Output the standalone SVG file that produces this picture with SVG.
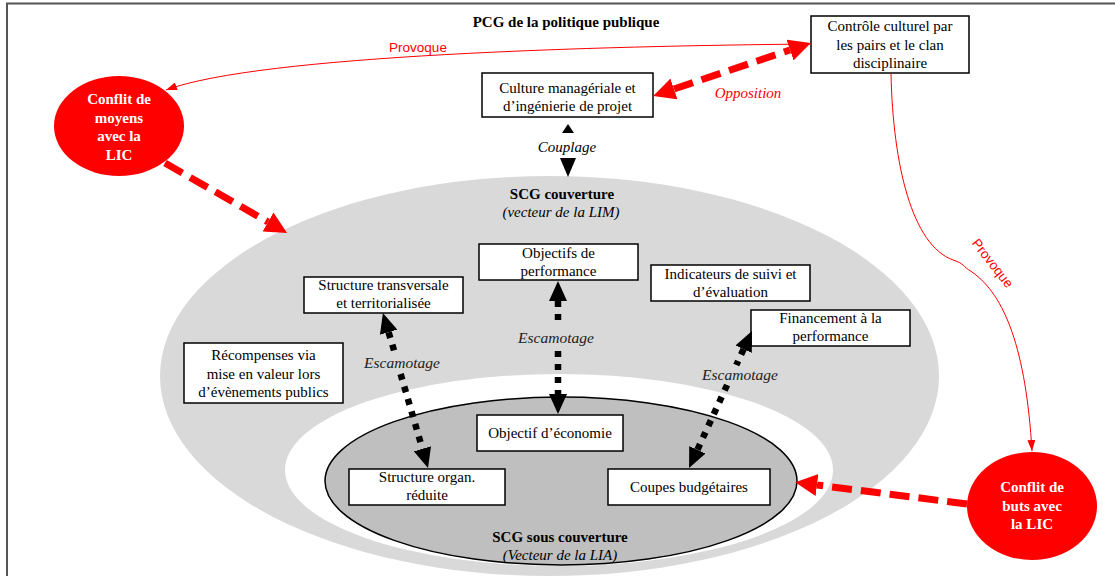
<svg xmlns="http://www.w3.org/2000/svg" width="1115" height="576" viewBox="0 0 1115 576">
<defs>
<style>
.bx{fill:#fff;stroke:#000;stroke-width:1.5}
.t{font-family:"Liberation Serif","Times New Roman","DejaVu Serif",serif;font-size:15px;fill:#000;text-anchor:middle}
.it{font-style:italic}
.b{font-weight:bold}
.w{fill:#fff;font-size:15px;font-weight:bold}
.rl{font-family:"Liberation Sans",Arial,sans-serif;font-size:13.5px;fill:#ff0000;text-anchor:middle}
.esc{font-family:"Liberation Serif","Times New Roman","DejaVu Serif",serif;font-size:15.5px;font-style:italic;fill:#222;text-anchor:middle}
.rdash{fill:none;stroke:#ff0000;stroke-width:7;stroke-dasharray:20 9}
.bdot{fill:none;stroke:#000;stroke-width:6.5;stroke-dasharray:6 7}
.thin{fill:none;stroke:#ff0000;stroke-width:1}
</style>
<marker id="rh" markerUnits="userSpaceOnUse" viewBox="0 0 22 22" markerWidth="22" markerHeight="22" refX="0" refY="11" orient="auto-start-reverse"><path d="M0,0 L22,11 L0,22 z" fill="#ff0000"/></marker>
<marker id="bh" markerUnits="userSpaceOnUse" viewBox="0 0 20 18" markerWidth="20" markerHeight="18" refX="0" refY="9" orient="auto-start-reverse"><path d="M0,0 L20,9 L0,18 z" fill="#000"/></marker>
<marker id="th" markerUnits="userSpaceOnUse" viewBox="0 0 11 8" markerWidth="11" markerHeight="8" refX="11" refY="4" orient="auto"><path d="M0,0 L11,4 L0,8 z" fill="#ff0000"/></marker>
</defs>
<rect width="1115" height="576" fill="#fff"/>
<path d="M7,576 L7,3.5 L1115,3.5" fill="none" stroke="#555" stroke-width="2"/>

<g id="scg-couverture">
<ellipse cx="549.5" cy="376" rx="389.5" ry="200" fill="#d9d9d9"/>
<ellipse cx="559" cy="470" rx="274" ry="96" fill="#fff"/>
<text class="t b" x="562" y="199">SCG couverture</text>
<text class="t it" x="561" y="217">(vecteur de la LIM)</text>
</g>
<g id="scg-sous-couverture">
<ellipse cx="561" cy="481" rx="236" ry="84" fill="#bfbfbf" stroke="#000" stroke-width="1.5"/>
<text class="t b" x="560" y="542">SCG sous couverture</text>
<text class="t it" x="560" y="560">(Vecteur de la LIA)</text>
</g>

<g id="title"><text class="t b" x="566" y="27">PCG de la politique publique</text></g>

<g id="controle"><rect class="bx" x="811" y="16" width="158" height="57"/>
<text class="t" x="890" y="31">Contrôle culturel par</text><text class="t" x="890" y="49.5">les pairs et le clan</text><text class="t" x="890" y="68">disciplinaire</text></g>
<g id="culture"><rect class="bx" x="482" y="73" width="171" height="44"/>
<text class="t" x="567.5" y="93">Culture managériale et</text><text class="t" x="567.5" y="111">d’ingénierie de projet</text></g>
<g id="objectifs-performance"><rect class="bx" x="479" y="244" width="159" height="36"/>
<text class="t" x="558.5" y="258">Objectifs de</text><text class="t" x="558.5" y="276">performance</text></g>
<g id="structure-transversale"><rect class="bx" x="304" y="277" width="159" height="36"/>
<text class="t" x="383.5" y="290">Structure transversale</text><text class="t" x="383.5" y="308">et territorialisée</text></g>
<g id="indicateurs"><rect class="bx" x="651" y="265" width="159" height="36"/>
<text class="t" x="730.5" y="279">Indicateurs de suivi et</text><text class="t" x="730.5" y="297">d’évaluation</text></g>
<g id="financement"><rect class="bx" x="751" y="310" width="159" height="36"/>
<text class="t" x="830.5" y="323">Financement à la</text><text class="t" x="830.5" y="341">performance</text></g>
<g id="recompenses"><rect class="bx" x="184" y="343" width="159" height="60"/>
<text class="t" x="263.5" y="360">Récompenses via</text><text class="t" x="263.5" y="378.5">mise en valeur lors</text><text class="t" x="263.5" y="397">d’évènements publics</text></g>
<g id="objectif-economie"><rect class="bx" x="477" y="415" width="146" height="36"/>
<text class="t" x="550" y="438">Objectif d’économie</text></g>
<g id="structure-organ"><rect class="bx" x="349" y="469" width="156" height="36"/>
<text class="t" x="427" y="482">Structure organ.</text><text class="t" x="427" y="500">réduite</text></g>
<g id="coupes"><rect class="bx" x="608" y="469" width="162" height="36"/>
<text class="t" x="689" y="492">Coupes budgétaires</text></g>

<g id="connectors">
<path class="thin" d="M811,44 C600,46 260,55 166,90" marker-end="url(#th)"/>
<text class="rl" x="418" y="52">Provoque</text>
<path class="thin" d="M891,74 C893,165 912,245 953,260 C965,264 962,266 972,272 C1005,295 1026,350 1032,451" marker-end="url(#th)"/>
<text class="rl" x="993" y="268" transform="rotate(52 993 263)">Provoque</text>
<line class="rdash" x1="674" y1="89" x2="790" y2="50" marker-start="url(#rh)" marker-end="url(#rh)"/>
<text class="t it" x="748" y="98" style="fill:#ff0000">Opposition</text>
<line class="rdash" x1="165" y1="163" x2="268" y2="222" marker-end="url(#rh)"/>
<line class="rdash" x1="967" y1="504" x2="817" y2="485" marker-end="url(#rh)"/>
<polygon points="568,124 574,133 562,133" fill="#000"/>
<polygon points="560,158 576,158 568,177" fill="#000"/>
<text class="t it" x="567" y="152">Couplage</text>
<line class="bdot" x1="388.6" y1="332.2" x2="394.2" y2="351" marker-start="url(#bh)"/>
<line class="bdot" x1="400.6" y1="374" x2="422.4" y2="448.8" marker-end="url(#bh)"/>
<text class="esc" x="402" y="368">Escamotage</text>
<line class="bdot" x1="558" y1="301" x2="558" y2="322" marker-start="url(#bh)"/>
<line class="bdot" x1="558" y1="351" x2="558" y2="394" marker-end="url(#bh)"/>
<text class="esc" x="556" y="343">Escamotage</text>
<line class="bdot" x1="743.6" y1="349.2" x2="736.3" y2="365" marker-start="url(#bh)"/>
<line class="bdot" x1="727.1" y1="385" x2="697.4" y2="449.8" marker-end="url(#bh)"/>
<text class="esc" x="740" y="380">Escamotage</text>
</g>

<g id="conflit-moyens"><ellipse cx="119" cy="126" rx="65" ry="50" fill="#ff0000"/>
<text class="t w" x="119" y="104">Conflit de</text><text class="t w" x="119" y="122.5">moyens</text><text class="t w" x="119" y="141">avec la</text><text class="t w" x="119" y="159.5">LIC</text></g>
<g id="conflit-buts"><ellipse cx="1032" cy="506" rx="65" ry="54" fill="#ff0000"/>
<text class="t w" x="1032" y="492">Conflit de</text><text class="t w" x="1032" y="511">buts avec</text><text class="t w" x="1032" y="529">la LIC</text></g>
</svg>
